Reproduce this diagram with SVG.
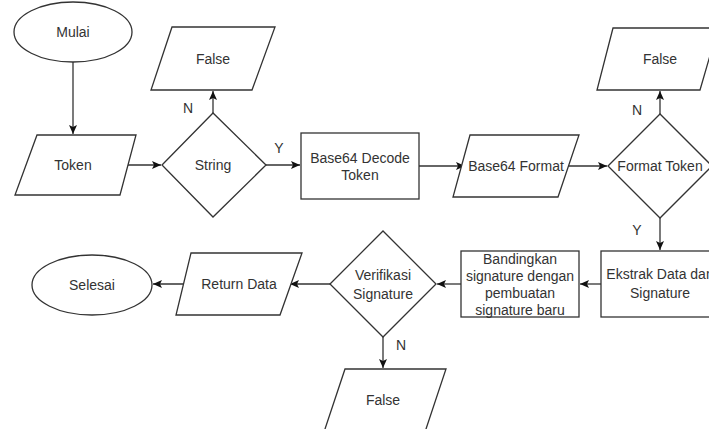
<svg xmlns="http://www.w3.org/2000/svg" width="709" height="429" viewBox="0 0 709 429">
<defs>
<marker id="ah" markerWidth="10" markerHeight="8" refX="9" refY="4" orient="auto" markerUnits="userSpaceOnUse">
<path d="M0,0 L9,4 L0,8 L2,4 z" fill="#111"/>
</marker>
<style>
.s{fill:#fff;stroke:#333;stroke-width:1.3}
.t{font-family:"Liberation Sans",Arial,sans-serif;font-size:14px;fill:#333;text-anchor:middle}
.c{fill:none;stroke:#333;stroke-width:1.3;marker-end:url(#ah)}
</style>
</defs>
<rect width="709" height="429" fill="#fff"/>
<g id="connectors">
<path class="c" d="M73,62 V134"/>
<path class="c" d="M124,165 H161"/>
<path class="c" d="M213,113 V91"/>
<path class="c" d="M266,165 H300"/>
<path class="c" d="M419,166 H465"/>
<path class="c" d="M560,166 H607"/>
<path class="c" d="M660,114 V91"/>
<path class="c" d="M660,218 V250"/>
<path class="c" d="M601,284 H580"/>
<path class="c" d="M461,284 H437"/>
<path class="c" d="M330,284 H290"/>
<path class="c" d="M187,284 H153"/>
<path class="c" d="M383,337 V368"/>
<text class="t" x="188" y="113">N</text>
<text class="t" x="279" y="153">Y</text>
<text class="t" x="637" y="115">N</text>
<text class="t" x="637" y="235">Y</text>
<text class="t" x="401" y="350">N</text>
</g>
<g id="mulai"><ellipse class="s" cx="73" cy="32" rx="59" ry="30"/><text class="t" x="73" y="37">Mulai</text></g>
<g id="token"><polygon class="s" points="37,135 136,135 120,195 15,195"/><text class="t" x="73" y="170">Token</text></g>
<g id="string"><polygon class="s" points="162,165 213,113 266,165 213,217"/><text class="t" x="213" y="170">String</text></g>
<g id="false1"><polygon class="s" points="172,27 275,27 252,90 151,90"/><text class="t" x="213" y="64">False</text></g>
<g id="decode"><rect class="s" x="301" y="133" width="118" height="66"/><text class="t" x="360" y="163">Base64 Decode</text><text class="t" x="360" y="180">Token</text></g>
<g id="format"><polygon class="s" points="470,135 579,135 558,197 453,197"/><text class="t" x="516" y="171">Base64 Format</text></g>
<g id="formattoken"><polygon class="s" points="608,166 660,114 712,166 660,218"/><text class="t" x="660" y="171">Format Token</text></g>
<g id="false2"><polygon class="s" points="613,28 718,28 700,90 597,90"/><text class="t" x="660" y="64">False</text></g>
<g id="ekstrak"><rect class="s" x="601" y="251" width="118" height="66"/><text class="t" x="660" y="279">Ekstrak Data dan</text><text class="t" x="660" y="298">Signature</text></g>
<g id="bandingkan"><rect class="s" x="461" y="251" width="118" height="66"/><text class="t" x="520" y="264">Bandingkan</text><text class="t" x="520" y="281">signature dengan</text><text class="t" x="520" y="298">pembuatan</text><text class="t" x="520" y="315">signature baru</text></g>
<g id="verifikasi"><polygon class="s" points="330,284 383,231 436,284 383,337"/><text class="t" x="383" y="280">Verifikasi</text><text class="t" x="383" y="299">Signature</text></g>
<g id="false3"><polygon class="s" points="345,369 446,369 425,432 324,432"/><text class="t" x="383" y="405">False</text></g>
<g id="returndata"><polygon class="s" points="191,253 302,253 280,315 176,315"/><text class="t" x="239" y="289">Return Data</text></g>
<g id="selesai"><ellipse class="s" cx="92" cy="285" rx="60" ry="30"/><text class="t" x="92" y="290">Selesai</text></g>
</svg>
